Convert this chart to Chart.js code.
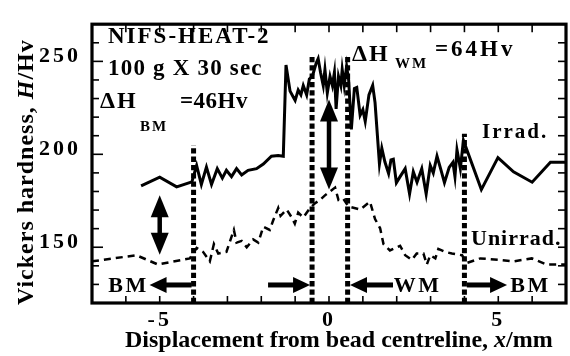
<!DOCTYPE html>
<html><head><meta charset="utf-8">
<script src="https://cdn.jsdelivr.net/npm/chart.js@4"></script>
<style>html,body{margin:0;padding:0;background:#fff}#wrap{width:570px;height:356px;position:relative}</style>
</head><body><div id="wrap"><canvas id="c"></canvas></div>
<script>
// ---- data ----
const irradX = [-5.55,-5.0,-4.5,-4.05,-3.91,-3.77,-3.62,-3.47,-3.30,-3.15,-3.03,-2.88,-2.73,-2.58,-2.39,-2.14,-1.94,-1.70,-1.50,-1.35,-1.27,-1.15,-1.06,-1.0,-0.91,-0.83,-0.76,-0.66,-0.58,-0.49,-0.38,-0.32,-0.25,-0.17,-0.12,-0.05,0.03,0.10,0.16,0.21,0.28,0.35,0.39,0.45,0.52,0.58,0.66,0.75,0.82,0.92,1.0,1.07,1.18,1.29,1.36,1.49,1.56,1.65,1.76,1.83,1.90,1.99,2.10,2.25,2.38,2.49,2.60,2.74,2.87,2.99,3.08,3.19,3.30,3.41,3.55,3.66,3.72,3.78,3.88,3.97,4.50,4.99,5.45,6.0,6.54,7.0];
const irradY = [183,187.7,182.5,185.2,194,183.8,193.1,183.8,192.3,187.2,191.4,188,192.3,188.9,191.4,192.3,194.8,199,199.4,199,248,234,231,229,234.6,232,237,232,240.5,242,249,251.5,244,237,245.6,233,242,237,244,224.4,242,237,245.6,237,247.3,240,213.4,235.4,236,221,224,217.7,232,237.1,227.8,194.8,203.3,196,189.7,197,197.4,184.7,188,192.3,178.7,190.6,185,192.3,178.7,194,190,199,192,184.7,193,195.7,188,202.4,192.3,207.5,181,198.2,190.6,185,195.7,195.7];
const unirradX = [-7.0,-5.69,-5.05,-4.11,-3.91,-3.72,-3.52,-3.40,-3.27,-3.03,-2.81,-2.73,-2.58,-2.43,-2.24,-2.09,-1.94,-1.75,-1.65,-1.50,-1.43,-1.25,-1.10,-1.01,-0.91,-0.76,-0.56,-0.41,-0.27,-0.12,0.18,0.28,0.42,0.57,0.92,1.21,1.36,1.51,1.61,1.80,2.10,2.25,2.45,2.59,2.79,2.89,2.99,3.14,3.23,3.43,3.63,3.93,4.07,4.47,5.06,5.45,5.99,6.43,7.0];
const unirradY = [142.4,145.7,140.7,144,149.6,147.5,142.4,151.7,146.6,147.5,159.3,152.5,153.4,150,154.2,152.5,161,159.3,164.4,171.1,166.9,170.3,166,162.7,168.6,166,171.1,173.7,175.4,177.9,182.1,175.4,176.2,172,170.3,174.5,165.2,160.2,151.7,148.3,150.8,145.7,143.2,146.6,146.6,140.7,145.7,144,149.1,147.5,146.6,145.7,141.5,144,143.2,142.4,144,140.7,140.7];
const xTickLabels = [-5, 0, 5];
const yTickLabels = [150, 200, 250];
const zoneX = [-4, -0.5, 0.55, 4];
const zoneTop = [205, 254, 254, 211];
const zoneBottom = 120;
const diffArrowX = [-5, 0];
const diffArrowLow = [146, 181];
const diffArrowHigh = [178, 229.5];
const regionArrowFrom = [-4.06, -1.8, 1.89, 4.07];
const regionArrowTo = [-5.3, -0.56, 0.62, 5.26];
const regionArrowY = 129.7;
const regionLabels = ['BM', 'WM', 'BM'];
const regionLabelX = [-5.95, 2.59, 5.92];
const deltaBM = 46, deltaWM = 64;

const SERIF = '"Liberation Serif", "Times New Roman", serif';

function txt(ctx, s, x, y, size, o) {
  o = o || {};
  ctx.font = (o.italic ? 'italic ' : '') + 'bold ' + size + 'px ' + SERIF;
  ctx.letterSpacing = (o.ls || 0) + 'px';
  ctx.textAlign = o.align || 'left';
  ctx.textBaseline = o.baseline || 'alphabetic';
  ctx.fillText(s, x, y);
  return ctx.measureText(s).width;
}
function seg(ctx, x1, y1, x2, y2) { ctx.beginPath(); ctx.moveTo(x1, y1); ctx.lineTo(x2, y2); ctx.stroke(); }
function head(ctx, tx, ty, dx, dy, len, w) {
  const nx = -dy, ny = dx;
  ctx.beginPath();
  ctx.moveTo(tx, ty);
  ctx.lineTo(tx - dx * len + nx * w / 2, ty - dy * len + ny * w / 2);
  ctx.lineTo(tx - dx * len - nx * w / 2, ty - dy * len - ny * w / 2);
  ctx.closePath(); ctx.fill();
}

const decor = {
  id: 'decor',
  beforeDraw(chart) { chart.ctx.letterSpacing = '3px'; },
  afterDraw(chart) {
    const ctx = chart.ctx, ca = chart.chartArea, xs = chart.scales.x, ys = chart.scales.y;
    ctx.save();
    ctx.strokeStyle = '#000'; ctx.fillStyle = '#000';
    // inward ticks
    ctx.lineWidth = 1.6;
    xs.ticks.forEach(t => {
      if (t.value <= xs.min || t.value >= xs.max) return;
      const p = xs.getPixelForValue(t.value);
      seg(ctx, p, ca.bottom, p, ca.bottom - 7);
      seg(ctx, p, ca.top, p, ca.top + 8);
    });
    ys.ticks.forEach(t => {
      if (t.value <= ys.min || t.value >= ys.max) return;
      const p = ys.getPixelForValue(t.value);
      const major = yTickLabels.includes(t.value);
      seg(ctx, ca.left, p, ca.left + (major ? 11 : 7), p);
      seg(ctx, ca.right, p, ca.right - 8, p);
    });
    // frame
    ctx.lineWidth = 3.2;
    ctx.strokeRect(ca.left, ca.top, ca.right - ca.left, ca.bottom - ca.top);
    // vertical double arrows
    ctx.lineWidth = 4.5;
    diffArrowX.forEach((x, i) => {
      const px = xs.getPixelForValue(x);
      const lo = ys.getPixelForValue(diffArrowLow[i]);
      const hi = ys.getPixelForValue(diffArrowHigh[i]);
      seg(ctx, px, hi + 18, px, lo - 18);
      head(ctx, px, hi, 0, -1, 22, 18);
      head(ctx, px, lo, 0, 1, 22, 18);
    });
    // horizontal region arrows
    ctx.lineWidth = 5;
    const ry = ys.getPixelForValue(regionArrowY);
    regionArrowFrom.forEach((x, i) => {
      const a = xs.getPixelForValue(x), b = xs.getPixelForValue(regionArrowTo[i]);
      const d = Math.sign(b - a);
      seg(ctx, a, ry, b - d * 14, ry);
      head(ctx, b, ry, d, 0, 17, 16);
    });
    regionLabels.forEach((s, i) => {
      txt(ctx, s, xs.getPixelForValue(regionLabelX[i]) + 1, ry + 7, 22, {ls: 2.5, align: 'center'});
    });
    // annotations
    txt(ctx, 'NIFS-HEAT-2', 108, 43, 23, {ls: 2});
    txt(ctx, '100 g X 30 sec', 108, 75, 23, {ls: 1.2});
    txt(ctx, '\u0394H', 100, 108, 24, {ls: 2});
    txt(ctx, 'BM', 140, 131, 15, {ls: 2});
    txt(ctx, '=' + deltaBM + 'Hv', 180, 108, 23, {ls: 0.5});
    txt(ctx, '\u0394H', 352, 61, 24, {ls: 2});
    txt(ctx, 'WM', 395, 68, 15, {ls: 2});
    txt(ctx, '=' + deltaWM + 'Hv', 435, 56, 23, {ls: 3});
    txt(ctx, 'Irrad.', 482, 138, 21, {ls: 2});
    txt(ctx, 'Unirrad.', 471, 245, 22, {ls: 1});
    // x axis title
    let x = 125;
    x += txt(ctx, 'Displacement from bead centreline, ', x, 347, 24);
    x += txt(ctx, 'x', x, 347, 24, {italic: true});
    txt(ctx, '/mm', x, 347, 24);
    // y axis title
    ctx.save();
    ctx.translate(33, 305);
    ctx.rotate(-Math.PI / 2);
    let y = 0;
    y += txt(ctx, 'Vickers hardness, ', y, 0, 24, {ls: 1});
    y += txt(ctx, 'H', y, 0, 24, {italic: true, ls: 1});
    txt(ctx, '/Hv', y, 0, 24, {ls: 1});
    ctx.restore();
    ctx.restore();
  }
};

const pts = (xs, ys) => xs.map((x, i) => ({x: x, y: ys[i]}));
const datasets = [
  {data: pts(irradX, irradY), borderColor: '#000', borderWidth: 3, pointRadius: 0, tension: 0, fill: false},
  {data: pts(unirradX, unirradY), borderColor: '#000', borderWidth: 2.5, borderDash: [7, 5], pointRadius: 0, tension: 0, fill: false}
];
zoneX.forEach((x, i) => datasets.push({
  data: [{x: x, y: zoneBottom}, {x: x, y: zoneTop[i]}],
  borderColor: '#000', borderWidth: 5, borderDash: [5.3, 3], borderCapStyle: 'butt', pointRadius: 0, fill: false
}));

new Chart(document.getElementById('c'), {
  type: 'line',
  data: {datasets: datasets},
  options: {
    responsive: true, maintainAspectRatio: false, animation: false,
    layout: {padding: {left: 0, top: 6, right: 4, bottom: 0}},
    plugins: {legend: {display: false}, tooltip: {enabled: false}},
    scales: {
      x: {
        type: 'linear', min: -7, max: 7,
        grid: {display: false, drawTicks: false}, border: {display: false},
        ticks: {stepSize: 1, autoSkip: false, maxRotation: 0, color: '#000', padding: 4,
          font: {family: SERIF, weight: 'bold', size: 22},
          callback: v => xTickLabels.includes(v) ? String(v) : ''},
        afterFit: s => { s.height = 53; }
      },
      y: {
        type: 'linear', min: 120, max: 270,
        grid: {display: false, drawTicks: false}, border: {display: false},
        ticks: {stepSize: 10, autoSkip: false, color: '#000', padding: 11, labelOffset: -5,
          font: {family: SERIF, weight: 'bold', size: 22},
          callback: v => yTickLabels.includes(v) ? String(v) : ''},
        afterFit: s => { s.width = 92; }
      }
    }
  },
  plugins: [decor]
});
</script></body></html>
